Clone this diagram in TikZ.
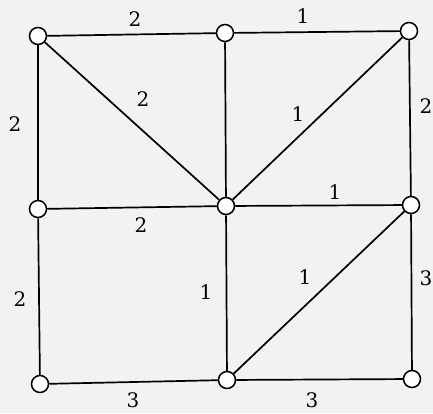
\documentclass[tikz,border=0pt]{standalone}
\usepackage{fontspec}
\setmainfont{DejaVu Serif}
\begin{document}
\begin{tikzpicture}[x=1pt,y=-1pt,
  vertex/.style={circle,draw=black,fill=white,line width=1.5pt,minimum size=17pt,inner sep=0pt},
  edge/.style={line width=1.7pt,draw=black},
  wlabel/.style={font=\fontsize{20}{20}\selectfont,inner sep=0pt}]
\fill[black!5] (0,0) rectangle (433,413);
\useasboundingbox (0,0) rectangle (433,413);
\node[vertex] (A) at (38,36) {};
\node[vertex] (B) at (225,33) {};
\node[vertex] (C) at (409,31) {};
\node[vertex] (D) at (38,209) {};
\node[vertex] (E) at (226,206) {};
\node[vertex] (F) at (411,205) {};
\node[vertex] (G) at (40,384) {};
\node[vertex] (H) at (227,380) {};
\node[vertex] (I) at (412,379) {};
\draw[edge] (A) -- (B);
\draw[edge] (B) -- (C);
\draw[edge] (A) -- (D);
\draw[edge] (A) -- (E);
\draw[edge] (B) -- (E);
\draw[edge] (C) -- (E);
\draw[edge] (C) -- (F);
\draw[edge] (D) -- (E);
\draw[edge] (E) -- (F);
\draw[edge] (D) -- (G);
\draw[edge] (E) -- (H);
\draw[edge] (F) -- (H);
\draw[edge] (F) -- (I);
\draw[edge] (G) -- (H);
\draw[edge] (H) -- (I);
\node[wlabel] (lAB) at (135,19) {2};
\node[wlabel] (lBC) at (303,16) {1};
\node[wlabel] (lAD) at (15,124) {2};
\node[wlabel] (lAE) at (143,99) {2};
\node[wlabel] (lCE) at (298,114) {1};
\node[wlabel] (lCF) at (426,106) {2};
\node[wlabel] (lEF) at (335,192) {1};
\node[wlabel] (lDE) at (141,225) {2};
\node[wlabel] (lFH) at (305,277) {1};
\node[wlabel] (lFI) at (426,278) {3};
\node[wlabel] (lDG) at (20,299) {2};
\node[wlabel] (lEH) at (206,292) {1};
\node[wlabel] (lGH) at (133,400) {3};
\node[wlabel] (lHI) at (312,400) {3};
\end{tikzpicture}
\end{document}
